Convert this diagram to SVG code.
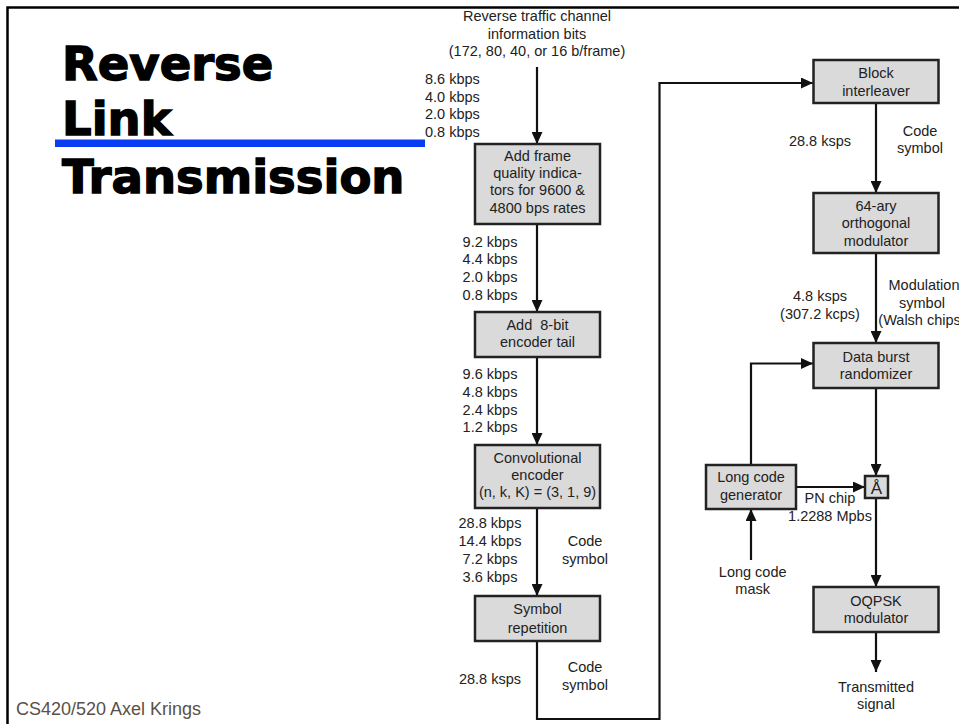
<svg xmlns="http://www.w3.org/2000/svg" width="959" height="724" viewBox="0 0 959 724">
<defs>
<marker id="ah" markerUnits="userSpaceOnUse" markerWidth="12" markerHeight="11" refX="12" refY="5.5" orient="auto">
<path d="M0,0 L12,5.5 L0,11 z" fill="#111"/>
</marker>
<style>
.t{font-family:"Liberation Sans",Arial,sans-serif;font-size:14.5px;fill:#222;text-anchor:middle}
.s{text-anchor:start}
.box{fill:#dadada;stroke:#222;stroke-width:2.5}
.c{fill:none;stroke:#111;stroke-width:2.2;marker-end:url(#ah)}
.title{font-family:"DejaVu Sans",sans-serif;font-weight:bold;font-size:46.5px;fill:#000;stroke:#000;stroke-width:1.4}
</style>
</defs>
<rect width="959" height="724" fill="#fff"/>
<g id="frame">
<path d="M7.5,724 V7.5 H959" fill="none" stroke="#000" stroke-width="2.5"/>
</g>
<g id="title">
<text class="title" x="62" y="80">Reverse</text>
<text class="title" x="62" y="135">Link</text>
<rect x="55" y="139.5" width="370" height="7.5" fill="#0a3cf5"/>
<text class="title" x="62" y="192.5">Transmission</text>
</g>
<g id="footer">
<text x="16" y="715" style="font-family:'Liberation Sans',Arial,sans-serif;font-size:18px;fill:#595048">CS420/520 Axel Krings</text>
</g>
<g id="connectors">
<path class="c" d="M537,67 V144"/>
<path class="c" d="M537,224 V312"/>
<path class="c" d="M537,357 V445"/>
<path class="c" d="M537,508 V596"/>
<path class="c" d="M537,641 V719 H659.5 V83 H813"/>
<path class="c" d="M876,103 V193"/>
<path class="c" d="M876,253 V343"/>
<path class="c" d="M876,388 V476"/>
<path class="c" d="M751,465 V363.5 H813"/>
<path class="c" d="M796,487 H865"/>
<path class="c" d="M751,560 V509"/>
<path class="c" d="M876,498 V587"/>
<path class="c" d="M876,632 V672"/>
</g>
<g id="labels">
<text class="t" x="537" y="21">Reverse traffic channel</text>
<text class="t" x="537" y="38.5">information bits</text>
<text class="t" x="537" y="56">(172, 80, 40, or 16 b/frame)</text>
<text class="t s" x="425" y="84">8.6 kbps</text>
<text class="t s" x="425" y="101.7">4.0 kbps</text>
<text class="t s" x="425" y="119.4">2.0 kbps</text>
<text class="t s" x="425" y="137">0.8 kbps</text>
<text class="t" x="490" y="246.7">9.2 kbps</text>
<text class="t" x="490" y="264.3">4.4 kbps</text>
<text class="t" x="490" y="282.2">2.0 kbps</text>
<text class="t" x="490" y="300">0.8 kbps</text>
<text class="t" x="490" y="379">9.6 kbps</text>
<text class="t" x="490" y="396.7">4.8 kbps</text>
<text class="t" x="490" y="414.5">2.4 kbps</text>
<text class="t" x="490" y="432.3">1.2 kbps</text>
<text class="t" x="490" y="528.3">28.8 kbps</text>
<text class="t" x="490" y="546">14.4 kbps</text>
<text class="t" x="490" y="563.7">7.2 kbps</text>
<text class="t" x="490" y="581.5">3.6 kbps</text>
<text class="t" x="585" y="546">Code</text>
<text class="t" x="585" y="563.5">symbol</text>
<text class="t" x="490" y="684.3">28.8 ksps</text>
<text class="t" x="585" y="672.3">Code</text>
<text class="t" x="585" y="689.5">symbol</text>
<text class="t" x="820" y="146">28.8 ksps</text>
<text class="t" x="920" y="135.5">Code</text>
<text class="t" x="920" y="153">symbol</text>
<text class="t" x="820" y="301">4.8 ksps</text>
<text class="t" x="820" y="318.5">(307.2 kcps)</text>
<text class="t" x="924" y="290">Modulation</text>
<text class="t" x="922" y="307.5">symbol</text>
<text class="t" x="922" y="325">(Walsh chips)</text>
<text class="t" x="830" y="503">PN chip</text>
<text class="t" x="830" y="521">1.2288 Mpbs</text>
<text class="t" x="752.7" y="576.7">Long code</text>
<text class="t" x="752.7" y="593.5">mask</text>
<text class="t" x="876" y="691.7">Transmitted</text>
<text class="t" x="876" y="709">signal</text>
</g>
<g id="n1"><rect class="box" x="475" y="144" width="125" height="80"/>
<text class="t" x="537.5" y="160.5">Add frame</text>
<text class="t" x="537.5" y="178">quality indica-</text>
<text class="t" x="537.5" y="195.3">tors for 9600 &amp;</text>
<text class="t" x="537.5" y="212.5">4800 bps rates</text></g>
<g id="n2"><rect class="box" x="475" y="312" width="125" height="45"/>
<text class="t" x="537.5" y="330" xml:space="preserve">Add  8-bit</text>
<text class="t" x="537.5" y="347.3">encoder tail</text></g>
<g id="n3"><rect class="box" x="475" y="445" width="125" height="63"/>
<text class="t" x="537.5" y="463.3">Convolutional</text>
<text class="t" x="537.5" y="480">encoder</text>
<text class="t" x="537.5" y="497">(n, k, K) = (3, 1, 9)</text></g>
<g id="n4"><rect class="box" x="475" y="596" width="125" height="45"/>
<text class="t" x="537.5" y="614">Symbol</text>
<text class="t" x="537.5" y="632.5">repetition</text></g>
<g id="n5"><rect class="box" x="813.5" y="60" width="125" height="43"/>
<text class="t" x="876" y="78">Block</text>
<text class="t" x="876" y="95.5">interleaver</text></g>
<g id="n6"><rect class="box" x="813.5" y="193" width="125" height="60"/>
<text class="t" x="876" y="210.5">64-ary</text>
<text class="t" x="876" y="228">orthogonal</text>
<text class="t" x="876" y="245.5">modulator</text></g>
<g id="n7"><rect class="box" x="813.5" y="343" width="125" height="45"/>
<text class="t" x="876" y="361.7">Data burst</text>
<text class="t" x="876" y="379">randomizer</text></g>
<g id="n8"><rect class="box" x="706" y="465" width="90" height="44"/>
<text class="t" x="751" y="482">Long code</text>
<text class="t" x="751" y="500">generator</text></g>
<g id="n9"><rect class="box" x="865" y="476" width="23" height="22"/>
<text class="t" x="876.5" y="494" style="font-size:17px">Å</text></g>
<g id="n10"><rect class="box" x="813.5" y="587" width="125" height="45"/>
<text class="t" x="876" y="606">OQPSK</text>
<text class="t" x="876" y="623">modulator</text></g>
</svg>
